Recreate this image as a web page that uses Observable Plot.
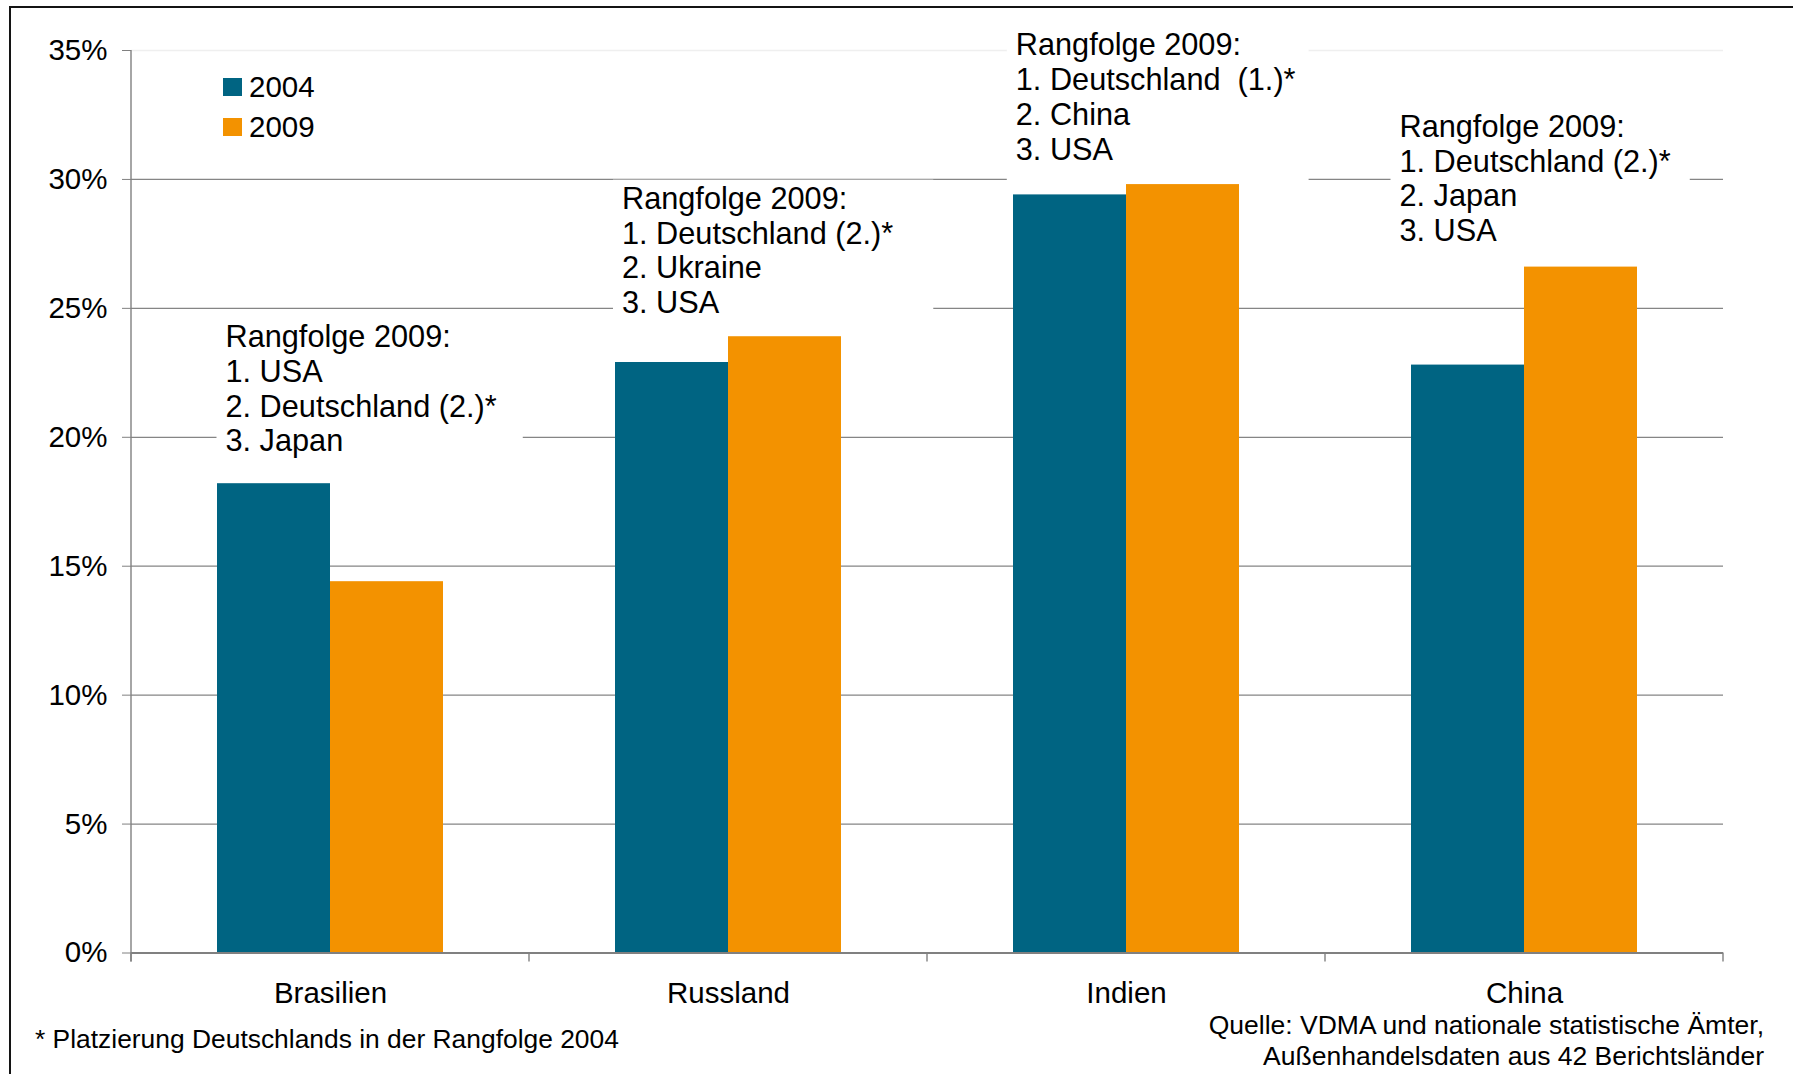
<!DOCTYPE html>
<html><head><meta charset="utf-8">
<script src="https://cdn.jsdelivr.net/npm/d3@7"></script>
<script src="https://cdn.jsdelivr.net/npm/@observablehq/plot@0.6"></script>
<style>
html,body{margin:0;padding:0;background:#fff}
body{font-family:"Liberation Sans",Arial,Helvetica,sans-serif;color:#000}
#wrap{position:relative;width:1793px;height:1074px;overflow:hidden;background:#fff}
#wrap svg{position:absolute;left:0;top:0}
.border{position:absolute;left:9px;top:6px;width:1900px;height:1200px;border-left:2.5px solid #141414;border-top:2.5px solid #141414;pointer-events:none}
.legend{position:absolute;left:223px;top:78px}
.legrow{display:flex;align-items:center;height:18px;margin-bottom:21.5px;font-size:29.5px;line-height:18px}
.legrow .sw{width:19px;height:18px;margin-right:7px}
.foot{position:absolute;left:35px;top:1023.5px;font-size:26.4px;line-height:31px;white-space:nowrap}
.src{position:absolute;right:29px;top:1010px;font-size:26.5px;line-height:31px;text-align:right;white-space:nowrap}
text.note{white-space:pre}
</style></head><body>
<div id="wrap"></div>
<script>
// ---- data ----
const countries = ["Brasilien", "Russland", "Indien", "China"];
const years = ["2004", "2009"];
const share2004 = [18.2, 22.9, 29.4, 22.8];
const share2009 = [14.4, 23.9, 29.8, 26.6];
const yTicks = [0, 5, 10, 15, 20, 25, 30, 35];
const rankings = [
  "Rangfolge 2009:\n1. USA\n2. Deutschland (2.)*\n3. Japan",
  "Rangfolge 2009:\n1. Deutschland (2.)*\n2. Ukraine\n3. USA",
  "Rangfolge 2009:\n1. Deutschland  (1.)*\n2. China\n3. USA",
  "Rangfolge 2009:\n1. Deutschland (2.)*\n2. Japan\n3. USA"
];
const footnote = "* Platzierung Deutschlands in der Rangfolge 2004";
const sourceLines = ["Quelle: VDMA und nationale statistische Ämter,", "Außenhandelsdaten aus 42 Berichtsländer"];

// ---- style / layout ----
const colors = ["#006482", "#F39200"];
const noteTop = [24.27, 29.63, 35.59, 32.42];   // top of annotation text (in % units)
const noteDx = [94, 92.5, 88.3, 74];            // offset from facet left edge (px)
const noteRightPad = [26, 40, 13, 19];          // white box extension right of text
const noteBottomPad = [1, 1, 14, 1];            // white box extension below text

const rows = countries.flatMap((c, i) => [
  {country: c, year: years[0], value: share2004[i]},
  {country: c, year: years[1], value: share2009[i]}
]);
const notes = countries.map((c, i) => ({country: c, text: rankings[i], top: noteTop[i], dx: noteDx[i]}));

const FONT = '"Liberation Sans", Arial, Helvetica, sans-serif';

const plot = Plot.plot({
  width: 1793,
  height: 1074,
  marginLeft: 129,
  marginRight: 69,
  marginTop: 50,
  marginBottom: 121.5,
  style: {fontFamily: FONT, fontSize: "29.5px", color: "#000", background: "transparent", overflow: "visible"},
  fx: {domain: countries, padding: 0, label: null},
  x: {domain: years, paddingInner: 0, paddingOuter: 0.75, axis: null},
  y: {domain: [0, 35]},
  color: {domain: years, range: colors},
  marks: [
    Plot.ruleY(yTicks.filter(d => d > 0 && d < 35), {stroke: "#858585", strokeWidth: 1.3}),
    Plot.ruleY([35], {stroke: "#efefef", strokeWidth: 1.3}),
    Plot.barY(rows, {fx: "country", x: "year", y: "value", fill: "year"}),
    Plot.ruleY([0], {stroke: "#808080", strokeWidth: 2.2}),
    Plot.axisY({ticks: yTicks, tickSize: 9, tickPadding: 15, tickFormat: d => d + "%", label: null, stroke: "#808080", fill: "#000"}),
    Plot.axisFx({anchor: "bottom", tickSize: 0, tickPadding: 29, label: null, fill: "#000"}),
    ...notes.map(n => Plot.text([n], {
      fx: "country", y: "top", text: "text", frameAnchor: "left", dx: n.dx, dy: -5,
      textAnchor: "start", lineAnchor: "top", lineHeight: 1.135, fontSize: 30.7, fill: "#000"
    }))
  ]
});

const wrap = document.getElementById("wrap");
wrap.appendChild(plot);
const svgEl = plot.tagName.toLowerCase() === "svg" ? plot : plot.querySelector("svg");
const svg = d3.select(svgEl);

// white boxes behind annotations (text boxes covering gridlines)
svg.selectAll("text")
  .filter(function () { return (this.textContent || "").startsWith("Rangfolge"); })
  .each(function () {
    this.classList.add("note");
    const txt = this.textContent;
    const idx = notes.findIndex(n => n.text.replace(/\n/g, "") === txt);
    const padR = idx >= 0 ? noteRightPad[idx] : 20;
    const padB = idx >= 0 ? noteBottomPad[idx] : 1;
    const b = this.getBBox();
    const r = document.createElementNS("http://www.w3.org/2000/svg", "rect");
    r.setAttribute("x", b.x - 9);
    r.setAttribute("y", b.y - 1);
    r.setAttribute("width", b.width + 9 + padR);
    r.setAttribute("height", b.height + 1 + padB);
    r.setAttribute("fill", "#fff");
    r.setAttribute("stroke", "none");
    const t = this.getAttribute("transform");
    if (t) r.setAttribute("transform", t);
    this.parentNode.insertBefore(r, this);
  });

// y axis line and category boundary ticks, from the library's scales
const fx = plot.scale("fx"), y = plot.scale("y");
const y0 = y.apply(0), yTop = y.apply(35);
const left = fx.apply(countries[0]);
const axisG = svg.append("g").attr("stroke", "#808080");
axisG.append("line").attr("x1", left).attr("x2", left).attr("y1", yTop).attr("y2", y0 + 9).attr("stroke-width", 1.4);
const bounds = countries.map(c => fx.apply(c)).concat([fx.apply(countries[countries.length - 1]) + fx.bandwidth]);
axisG.selectAll("line.b").data(bounds).join("line").attr("class", "b")
  .attr("x1", d => d).attr("x2", d => d).attr("y1", y0).attr("y2", y0 + 9).attr("stroke-width", 1.4);

// legend
const leg = document.createElement("div");
leg.className = "legend";
years.forEach((yr, i) => {
  const row = document.createElement("div");
  row.className = "legrow";
  const sw = document.createElement("div");
  sw.className = "sw";
  sw.style.background = colors[i];
  const tx = document.createElement("span");
  tx.textContent = yr;
  row.appendChild(sw); row.appendChild(tx);
  leg.appendChild(row);
});
wrap.appendChild(leg);

// footnote and source
const f = document.createElement("div");
f.className = "foot"; f.textContent = footnote;
wrap.appendChild(f);
const s = document.createElement("div");
s.className = "src"; s.innerHTML = sourceLines.join("<br>");
wrap.appendChild(s);

// frame border
const bd = document.createElement("div");
bd.className = "border";
wrap.appendChild(bd);
</script>
</body></html>
